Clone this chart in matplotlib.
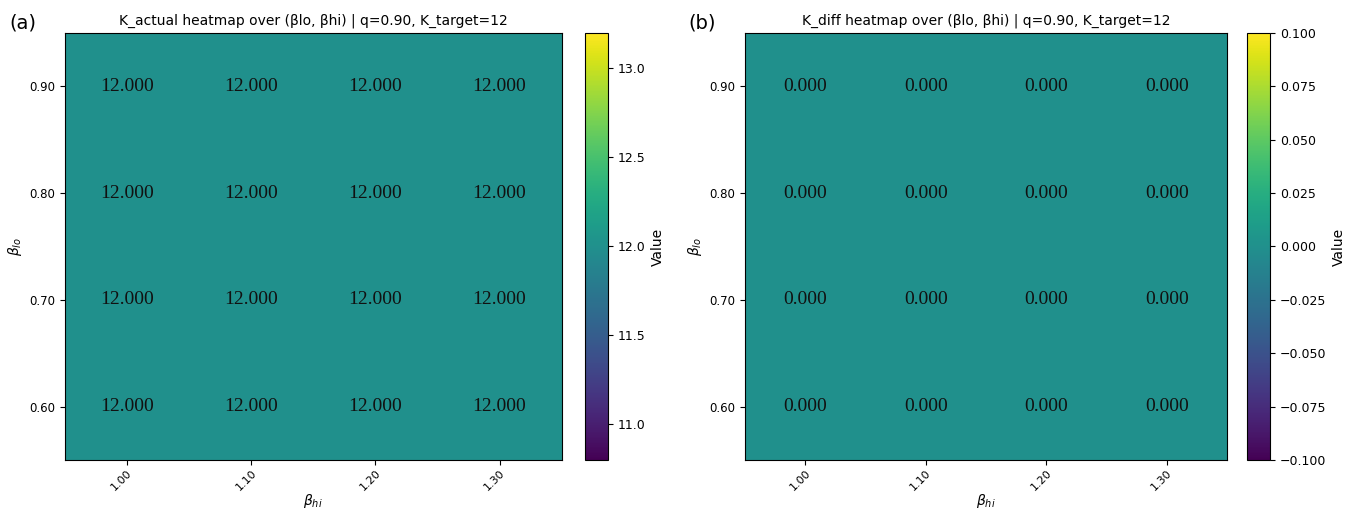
import matplotlib
matplotlib.use('Agg')
import matplotlib.pyplot as plt
import numpy as np

# ---- data ----
BETA_HI = [1.00, 1.10, 1.20, 1.30]
BETA_LO = [0.60, 0.70, 0.80, 0.90]
K_TARGET = 12
Q = 0.90

# rows = beta_lo, cols = beta_hi
K_ACTUAL = [[12.0, 12.0, 12.0, 12.0],
            [12.0, 12.0, 12.0, 12.0],
            [12.0, 12.0, 12.0, 12.0],
            [12.0, 12.0, 12.0, 12.0]]
K_DIFF = [[0.0, 0.0, 0.0, 0.0],
          [0.0, 0.0, 0.0, 0.0],
          [0.0, 0.0, 0.0, 0.0],
          [0.0, 0.0, 0.0, 0.0]]

PANELS = [
    ("(a)", "K_actual", K_ACTUAL, (10.8, 13.2), [11.0, 11.5, 12.0, 12.5, 13.0], "{:.1f}"),
    ("(b)", "K_diff", K_DIFF, (-0.1, 0.1),
     [-0.1, -0.075, -0.05, -0.025, 0.0, 0.025, 0.05, 0.075, 0.1], "{:.3f}"),
]

AX_POS = [[0.048, 0.105, 0.368, 0.831], [0.552, 0.105, 0.357, 0.831]]
CB_POS = [[0.433, 0.105, 0.017, 0.831], [0.924, 0.105, 0.017, 0.831]]
TAG_X = [0.007, 0.510]


def draw_panel(fig, i, tag, name, data, lims, cticks, cfmt):
    ax = fig.add_axes(AX_POS[i])
    cax = fig.add_axes(CB_POS[i])
    arr = np.array(data)
    im = ax.imshow(arr, origin='lower', cmap='viridis', vmin=lims[0], vmax=lims[1],
                   aspect='auto', interpolation='nearest')
    for r in range(arr.shape[0]):
        for c in range(arr.shape[1]):
            ax.text(c, r, f"{arr[r, c]:.3f}", ha='center', va='center',
                    fontsize=14, family='Liberation Serif', color='#111111')
    ax.set_xticks(range(len(BETA_HI)))
    ax.set_xticklabels([f"{b:.2f}" for b in BETA_HI], rotation=45, ha='right',
                       rotation_mode='anchor', fontsize=8)
    ax.tick_params(axis='x', pad=2)
    ax.set_yticks(range(len(BETA_LO)))
    ax.set_yticklabels([f"{b:.2f}" for b in BETA_LO], fontsize=8.5)
    ax.set_xlabel(r"$\beta_{hi}$", fontsize=10, labelpad=0)
    ax.set_ylabel(r"$\beta_{lo}$", fontsize=10)
    ax.set_title(f"{name} heatmap over (\u03b2lo, \u03b2hi) | q={Q:.2f}, K_target={K_TARGET}",
                 fontsize=10)
    cb = fig.colorbar(im, cax=cax)
    cb.set_ticks(cticks)
    cb.set_ticklabels([cfmt.format(t).replace('-', '\u2212') for t in cticks])
    cb.ax.tick_params(labelsize=9)
    cb.set_label("Value", fontsize=10)
    fig.text(TAG_X[i], 0.945, tag, fontsize=14)


fig = plt.figure(figsize=(13.5, 5.14), dpi=100)
for i, (tag, name, data, lims, cticks, cfmt) in enumerate(PANELS):
    draw_panel(fig, i, tag, name, data, lims, cticks, cfmt)
fig.savefig("out.png", dpi=100)
